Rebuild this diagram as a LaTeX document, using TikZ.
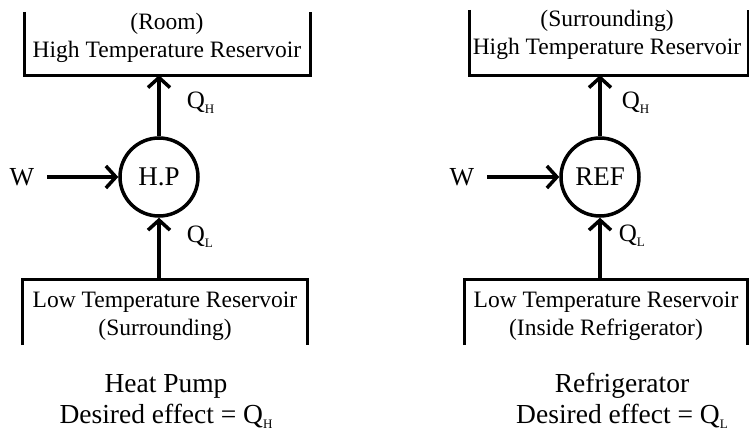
\documentclass[tikz,border=0pt]{standalone}
\usepackage{fontspec}
\setmainfont{Liberation Serif}
\usetikzlibrary{arrows.meta,positioning}
\newcommand{\heatsub}[1]{\raisebox{-5pt}{\fontsize{13}{13}\selectfont #1}}

\begin{document}
\begin{tikzpicture}[x=1pt,y=1pt,
    wall/.style={line width=3pt},
    flow/.style={line width=3.5pt,-{Straight Barb[length=10pt,width=22pt]}},
    device/.style={circle,draw,line width=3.5pt,minimum size=78pt,inner sep=0pt,
      font=\fontsize{27}{30}\selectfont},
    restext/.style={font=\fontsize{23.5}{28}\selectfont,align=center,
      anchor=base,inner sep=0pt},
    caption/.style={font=\fontsize{27.5}{31}\selectfont,align=center,
      anchor=base,inner sep=0pt},
    heatlabel/.style={font=\fontsize{25}{28}\selectfont,anchor=west,inner sep=0pt},
    worklabel/.style={font=\fontsize{26}{28}\selectfont,inner sep=13pt}]
  \useasboundingbox (0,0) rectangle (749,440);

  % heat pump
  \node[minimum width=285pt,minimum height=63pt,inner sep=0pt] (hpHigh) at (167.5,396.5) {};
  \node[restext] (hpHighText) at (167,382) {(Room)\\High Temperature Reservoir};
  \node[minimum width=284pt,minimum height=65pt,inner sep=0pt] (hpLow) at (165,127.5) {};
  \node[restext] (hpLowText) at (165,105) {Low Temperature Reservoir\\(Surrounding)};
  \node[device] (hp) at (159,263) {H.P};
  \node[worklabel] (hpW) at (22,263) {W};
  \draw[wall] (hpHigh.north west) |- (hpHigh.south east) -- (hpHigh.north east);
  \draw[wall] (hpLow.south west) |- (hpLow.north east) -- (hpLow.south east);
  \draw[flow] (hp.north) -- (hp.north |- hpHigh.south)
    node[heatlabel] (hpQH) at (185,337) {Q\heatsub{H}};
  \draw[flow] (hp.south |- hpLow.north) -- (hp.south)
    node[heatlabel] (hpQL) at (185,203) {Q\heatsub{L}};
  \draw[flow] (hpW) -- (hp);
  \node[caption] (hpCaption) at (166,17) {Heat Pump\\Desired effect = Q\heatsub{H}};

  % refrigerator
  \node[minimum width=278pt,minimum height=65pt,inner sep=0pt] (refHigh) at (609,397.5) {};
  \node[restext] (refHighText) at (607,385) {(Surrounding)\\High Temperature Reservoir};
  \node[minimum width=282pt,minimum height=65pt,inner sep=0pt] (refLow) at (606,127.5) {};
  \node[restext] (refLowText) at (606,105) {Low Temperature Reservoir\\(Inside Refrigerator)};
  \node[device] (ref) at (600,263) {REF};
  \node[worklabel] (refW) at (462,263) {W};
  \draw[wall] (refHigh.north west) |- (refHigh.south east) -- (refHigh.north east);
  \draw[wall] (refLow.south west) |- (refLow.north east) -- (refLow.south east);
  \draw[flow] (ref.north) -- (ref.north |- refHigh.south)
    node[heatlabel] (refQH) at (620,337) {Q\heatsub{H}};
  \draw[flow] (ref.south |- refLow.north) -- (ref.south)
    node[heatlabel] (refQL) at (617,204) {Q\heatsub{L}};
  \draw[flow] (refW) -- (ref);
  \node[caption] (refCaption) at (622,17) {Refrigerator\\Desired effect = Q\heatsub{L}};
\end{tikzpicture}
\end{document}
